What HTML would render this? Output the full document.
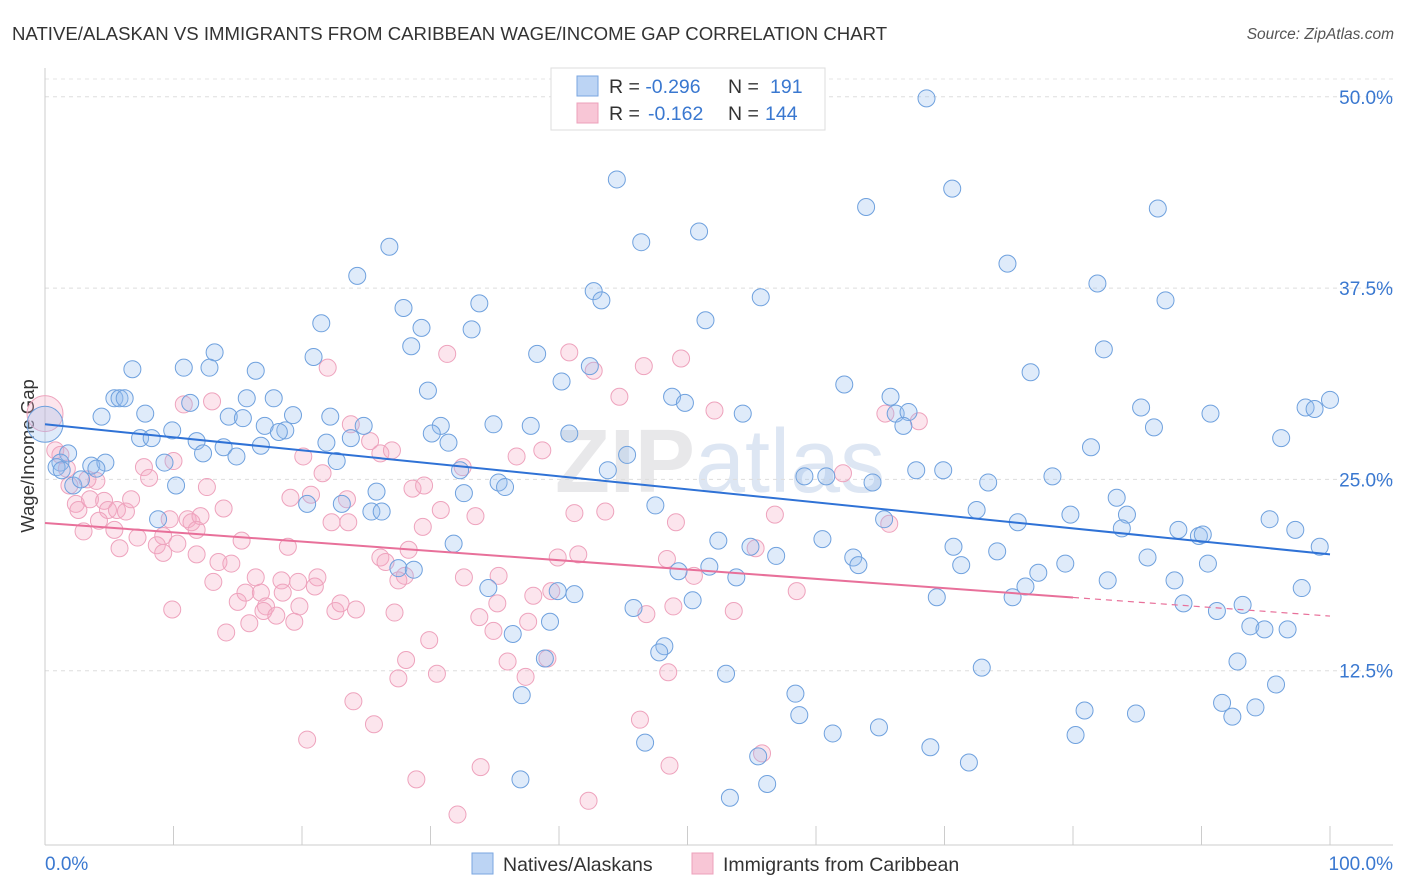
<!DOCTYPE html>
<html><head><meta charset="utf-8"><style>
body{margin:0;background:#fff;width:1406px;height:892px;overflow:hidden;font-family:"Liberation Sans",sans-serif}
svg{position:absolute;left:0;top:0}
</style></head><body>
<svg id="chart" width="1406" height="892">
<text x="12" y="40" font-size="18.6" fill="#333">NATIVE/ALASKAN VS IMMIGRANTS FROM CARIBBEAN WAGE/INCOME GAP CORRELATION CHART</text>
<text x="1394" y="39" font-size="15.5" fill="#555" font-style="italic" text-anchor="end">Source: ZipAtlas.com</text>
<text transform="translate(34,456) rotate(-90)" font-size="18.5" fill="#333" text-anchor="middle">Wage/Income Gap</text>
<text x="720" y="492" font-size="90" fill="#e8e8ea" text-anchor="middle" font-weight="bold">ZIP<tspan fill="#dde6f3" font-weight="normal">atlas</tspan></text>
<g id="grid"></g><g id="axes"></g><g id="pts"></g><g id="trends"></g>
<g>
<rect x="551" y="68" width="274" height="62" fill="#fff" stroke="#ddd"/>
<rect x="577" y="76" width="21" height="20" fill="#bcd4f4" stroke="#7aa6e0"/>
<rect x="577" y="103" width="21" height="20" fill="#f8c6d6" stroke="#eda0bb"/>
<text x="609" y="93" font-size="19.5" fill="#333">R = <tspan fill="#3a78d0">-0.296</tspan><tspan x="728">N = </tspan><tspan x="770" fill="#3a78d0">191</tspan></text>
<text x="609" y="120" font-size="19.5" fill="#333">R = <tspan x="648" fill="#3a78d0">-0.162</tspan><tspan x="728">N = </tspan><tspan x="765" fill="#3a78d0">144</tspan></text>
</g>
<g>
<rect x="472" y="853" width="21" height="21" fill="#bcd4f4" stroke="#7aa6e0"/>
<text x="503" y="871" font-size="19.5" fill="#333">Natives/Alaskans</text>
<rect x="692" y="853" width="21" height="21" fill="#f8c6d6" stroke="#eda0bb"/>
<text x="723" y="871" font-size="19.5" fill="#333">Immigrants from Caribbean</text>
</g>
</svg>
<script>
const yTicks=[12.5,25,37.5,50];
const yTickLabels=["12.5%","25.0%","37.5%","50.0%"];
const xTicks=[0,10,20,30,40,50,60,70,80,90,100];
const blueX=[0,68.6,44.5,70.6,63.9,86.6,50.9,46.4,26.8,74.9,24.3,81.9,42.7,43.3,55.7,87.2,27.9,33.8,51.4,21.5,29.3,33.2,28.5,13.2,20.9,38.3,82.4,6.8,10.8,12.8,16.4,42.4,40.2,76.7,29.8,62.2,5.4,5.8,6.2,11.3,15.7,17.8,48.8,49.8,65.8,85.3,98.1,98.8,100,4.4,7.8,14.3,15.4,19.3,22.2,24.8,30.8,34.9,37.8,54.3,66.2,67.2,90.7,86.3,66.8,9.9,17.1,18.7,18.2,7.4,8.3,11.8,16.8,21.9,23.8,30.1,31.4,40.8,96.2,81.4,1.8,1.2,0.9,1.3,3.6,4.7,4.0,2.2,2.8,10.2,12.3,13.9,14.9,22.7,9.3,32.3,45.3,43.8,67.8,69.9,59.1,60.8,64.4,73.4,78.4,35.3,35.8,25.8,32.6,23.1,20.4,25.4,26.2,8.8,47.5,72.5,83.4,79.8,84.2,75.7,65.3,95.3,88.2,89.8,90.1,83.8,97.3,99.2,60.5,52.4,54.9,70.7,74.1,62.9,63.3,56.9,85.8,79.4,90.5,71.3,31.8,27.5,28.7,34.5,39.9,41.2,49.3,51.7,53.8,77.3,82.7,87.9,76.3,69.4,75.3,97.8,88.6,91.2,93.2,45.8,50.4,39.3,93.8,94.9,96.7,36.4,48.2,47.8,38.9,92.8,72.9,53.0,37.1,95.8,58.4,58.7,80.9,84.9,91.6,92.4,94.2,61.3,64.9,46.7,68.9,80.2,55.5,71.9,37.0,56.2,53.3];
const blueY=[28.6,49.9,44.6,44.0,42.8,42.7,41.2,40.5,40.2,39.1,38.3,37.8,37.3,36.7,36.9,36.7,36.2,36.5,35.4,35.2,34.9,34.8,33.7,33.3,33.0,33.2,33.5,32.2,32.3,32.3,32.1,32.4,31.4,32.0,30.8,31.2,30.3,30.3,30.3,30.0,30.3,30.3,30.4,30.0,30.4,29.7,29.7,29.6,30.2,29.1,29.3,29.1,29.0,29.2,29.1,28.5,28.5,28.6,28.5,29.3,29.3,29.4,29.3,28.4,28.5,28.2,28.5,28.2,28.1,27.7,27.7,27.5,27.2,27.4,27.7,28.0,27.4,28.0,27.7,27.1,26.7,26.1,25.8,25.6,25.9,26.1,25.7,24.6,25.0,24.6,26.7,27.1,26.5,26.2,26.1,25.6,26.6,25.6,25.6,25.6,25.2,25.2,24.8,24.8,25.2,24.8,24.5,24.2,24.1,23.4,23.4,22.9,22.9,22.4,23.3,23.0,23.8,22.7,22.7,22.2,22.4,22.4,21.7,21.3,21.4,21.8,21.7,20.6,21.1,21.0,20.6,20.6,20.3,19.9,19.4,20.0,19.9,19.5,19.5,19.4,20.8,19.2,19.1,17.9,17.7,17.5,19.0,19.3,18.6,18.9,18.4,18.4,18.0,17.3,17.3,17.9,16.9,16.4,16.8,16.6,17.1,15.7,15.4,15.2,15.2,14.9,14.1,13.7,13.3,13.1,12.7,12.3,10.9,11.6,11.0,9.6,9.9,9.7,10.4,9.5,10.1,8.4,8.8,7.8,7.5,8.3,6.9,6.5,5.4,5.1,4.2];
const pinkX=[0,0.8,1.2,1.7,1.9,3.3,4.0,2.4,2.6,3.0,3.5,4.6,4.9,5.6,6.3,6.7,4.2,5.4,5.8,7.2,7.7,8.1,10.0,10.8,13.0,12.6,9.7,11.1,11.4,12.1,11.8,13.9,9.2,8.7,9.2,10.3,11.8,15.3,13.5,14.5,13.1,16.4,15.6,16.8,15.0,17.2,19.1,20.1,22.0,21.6,20.7,22.3,23.6,23.5,23.8,25.3,26.1,27.0,18.9,18.4,19.7,21.2,21.0,18.5,17.0,19.8,19.4,18.0,15.9,14.1,9.9,22.6,23.0,24.2,27.2,26.1,26.5,28.3,28.0,27.5,29.4,28.6,29.5,30.8,31.3,32.5,33.5,32.6,35.3,33.8,35.2,34.9,29.9,28.1,27.5,30.5,36.0,37.4,37.6,36.7,38.7,38.0,39.4,39.9,41.5,41.2,43.6,40.8,42.7,44.7,46.6,49.5,52.1,49.1,48.4,48.9,46.8,53.6,55.3,56.8,58.5,50.5,48.5,46.3,48.6,55.8,42.3,39.1,33.9,32.1,28.9,25.6,24.0,20.4,62.1,65.4,68.0,65.7];
const pinkY=[29.3,26.9,26.6,25.7,24.6,25.0,24.9,23.4,23.0,21.6,23.7,23.6,23.0,23.0,22.9,23.7,22.3,21.7,20.5,21.2,25.8,25.1,26.2,29.9,30.1,24.5,22.4,22.4,22.2,22.6,21.7,23.1,21.3,20.7,20.2,20.8,20.1,21.0,19.6,19.5,18.3,18.6,17.6,17.6,17.0,16.7,23.8,26.5,32.3,25.4,24.0,22.2,22.2,23.7,28.6,27.5,26.7,26.9,20.6,18.4,18.3,18.6,18.0,17.6,16.4,16.7,15.7,16.1,15.6,15.0,16.5,16.4,16.9,16.5,16.3,19.9,19.6,20.4,18.7,18.4,21.9,24.4,24.6,23.0,33.2,25.8,22.6,18.6,18.7,16.0,16.9,15.1,14.5,13.2,12.0,12.3,13.1,12.1,15.7,26.5,26.9,17.4,17.7,19.9,20.1,22.8,22.9,33.3,32.1,30.4,32.4,32.9,29.5,22.2,19.8,16.7,16.2,16.4,20.5,22.7,17.7,18.7,12.4,9.3,6.3,7.1,4.0,13.3,6.2,3.1,5.4,9.0,10.5,8.0,25.4,29.3,28.8,22.1];
const blueTrend=[28.6,20.1];     // y at x=0 and x=100
const pinkTrend=[22.15,16.07];   // y at x=0 and x=100
const pinkSolidEnd=80;
const NS="http://www.w3.org/2000/svg";
const X0=45,X1=1330,YB=862,PX=191.3/12.5;
const sx=v=>X0+(X1-X0)*v/100;
const sy=v=>YB-v*PX;
function mk(t,a,p){const e=document.createElementNS(NS,t);for(const k in a)e.setAttribute(k,a[k]);p.appendChild(e);return e;}
const grid=document.getElementById('grid'),axes=document.getElementById('axes');
yTicks.forEach((t,i)=>{
 const l=mk('line',{x1:45,x2:1393,y1:sy(t),y2:sy(t),stroke:'#ddd','stroke-dasharray':'4,4'},grid);
 
 
 const tx=mk('text',{x:1393,y:sy(t)+7,'font-size':19,fill:'#3a78d0','text-anchor':'end'},axes);
 tx.textContent=yTickLabels[i];
 
 
});
const tg=mk('line',{x1:45,x2:1393,y1:79,y2:79,stroke:'#e4e4e4','stroke-dasharray':'4,4'},grid);


const yax=mk('line',{x1:45,x2:45,y1:68,y2:845,stroke:'#ccc'},axes);


const xax=mk('line',{x1:45,x2:1393,y1:845,y2:845,stroke:'#ccc'},axes);


xTicks.forEach(t=>{
 const l=mk('line',{x1:sx(t),x2:sx(t),y1:826,y2:845,stroke:'#ccc'},axes);
 
 
});
const xl0=mk('text',{x:45,y:870,'font-size':19,fill:'#3a78d0'},axes);xl0.textContent='0.0%';


const xl1=mk('text',{x:1393,y:870,'font-size':19,fill:'#3a78d0','text-anchor':'end'},axes);xl1.textContent='100.0%';


const pts=document.getElementById('pts');
function draw(xs,ys,fill,stroke,name){
 xs.forEach((v,i)=>{
  const c=mk('circle',{cx:sx(v),cy:sy(ys[i]),r:i===0?18:8.5,fill:fill,stroke:stroke,'stroke-width':1},pts);
  
  
 });
}
draw(pinkX,pinkY,'rgba(244,170,196,0.3)','#eea3bd','caribbean-point');
draw(blueX,blueY,'rgba(150,190,240,0.3)','#6fa1de','natives-point');
const tr=document.getElementById('trends');
const bl=mk('line',{x1:sx(0),y1:sy(blueTrend[0]),x2:sx(100),y2:sy(blueTrend[1]),stroke:'#2f72d6','stroke-width':2},tr);


const pAt=x=>pinkTrend[0]+(pinkTrend[1]-pinkTrend[0])*x/100;
const pl=mk('line',{x1:sx(0),y1:sy(pAt(0)),x2:sx(pinkSolidEnd),y2:sy(pAt(pinkSolidEnd)),stroke:'#e8709a','stroke-width':2},tr);


const pd=mk('line',{x1:sx(pinkSolidEnd),y1:sy(pAt(pinkSolidEnd)),x2:sx(100),y2:sy(pAt(100)),stroke:'#e8709a','stroke-width':1.2,'stroke-dasharray':'6,5'},tr);


</script>
</body></html>
